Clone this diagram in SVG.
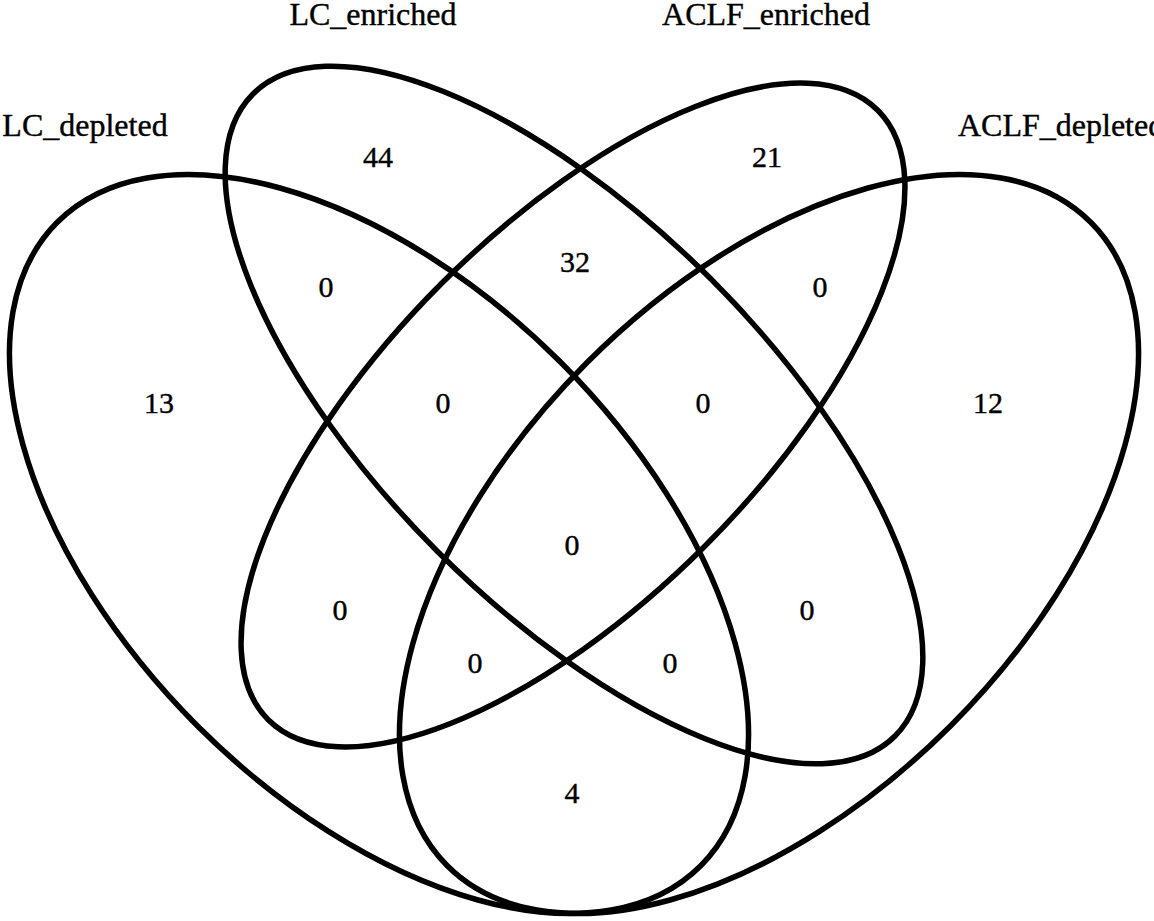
<svg xmlns="http://www.w3.org/2000/svg" width="1154" height="921" viewBox="0 0 1154 921">
<style>
.set{fill:none;stroke:#000;stroke-width:5.5}
.cat{font-family:"Liberation Serif","Times New Roman",serif;font-size:32px;fill:#000;stroke:#000;stroke-width:0.4}
.num{font-family:"Liberation Serif","Times New Roman",serif;font-size:30px;fill:#000;stroke:#000;stroke-width:0.4;text-anchor:middle}
</style>
<rect width="1154" height="921" fill="#fff"/>
<g id="LC_depleted">
<ellipse class="set" cx="0" cy="0" rx="455" ry="257" transform="translate(379,544) rotate(45)"/>
<text class="cat" x="85" y="136" text-anchor="middle">LC_depleted</text>
</g>
<g id="LC_enriched">
<ellipse class="set" cx="0" cy="0" rx="454" ry="193" transform="translate(574,415) rotate(45)"/>
<text class="cat" x="373" y="25" text-anchor="middle">LC_enriched</text>
</g>
<g id="ACLF_enriched">
<ellipse class="set" cx="0" cy="0" rx="431" ry="186" transform="translate(573,415) rotate(-45)"/>
<text class="cat" x="766" y="25" text-anchor="middle">ACLF_enriched</text>
</g>
<g id="ACLF_depleted">
<ellipse class="set" cx="0" cy="0" rx="455" ry="257" transform="translate(769,544) rotate(-45)"/>
<text class="cat" x="958" y="136">ACLF_depleted</text>
</g>
<g id="counts">
<text class="num" x="378" y="167">44</text>
<text class="num" x="767" y="167">21</text>
<text class="num" x="575" y="272">32</text>
<text class="num" x="326" y="297">0</text>
<text class="num" x="820" y="297">0</text>
<text class="num" x="159" y="413">13</text>
<text class="num" x="988" y="413">12</text>
<text class="num" x="443" y="413">0</text>
<text class="num" x="703" y="413">0</text>
<text class="num" x="572" y="555">0</text>
<text class="num" x="340" y="620">0</text>
<text class="num" x="807" y="620">0</text>
<text class="num" x="475" y="673">0</text>
<text class="num" x="670" y="673">0</text>
<text class="num" x="572" y="803">4</text>
</g>
</svg>
